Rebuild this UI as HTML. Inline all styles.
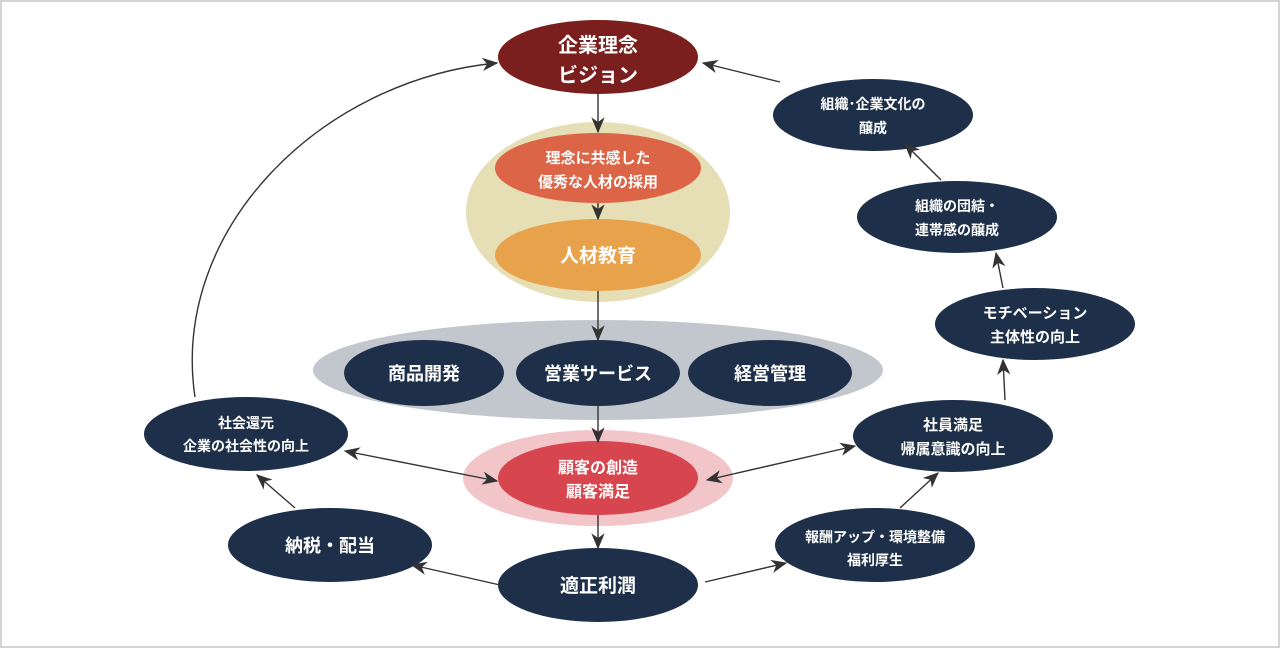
<!DOCTYPE html>
<html><head><meta charset="utf-8"><style>
html,body{margin:0;padding:0;background:#fff}
svg{display:block}
text{font-family:"Liberation Sans","Noto Sans CJK JP",sans-serif;font-weight:bold;fill:#fff;text-anchor:middle}
</style></head><body>
<svg width="1280" height="648" viewBox="0 0 1280 648" xmlns="http://www.w3.org/2000/svg">
<defs>
<marker id="a" viewBox="0 0 12 10" refX="11" refY="5" markerWidth="16" markerHeight="14" markerUnits="userSpaceOnUse" orient="auto-start-reverse">
<path d="M0,0 L12,5 L0,10 L3.5,5 z" fill="#333"/>
</marker>
</defs>
<rect x="1" y="1" width="1278" height="646" fill="#fff" stroke="#d4d4d4" stroke-width="2"/>
<ellipse cx="598" cy="57" rx="100" ry="37" fill="#7a1f1e"/>
<ellipse cx="598" cy="212" rx="132" ry="90" fill="#e6dfb6"/>
<ellipse cx="598" cy="168" rx="103" ry="35" fill="#dc6547"/>
<ellipse cx="598" cy="255" rx="103" ry="36" fill="#e9a24c"/>
<ellipse cx="598" cy="370" rx="285" ry="50" fill="#c2c6cd"/>
<ellipse cx="424" cy="373" rx="80" ry="33" fill="#1e3049"/>
<ellipse cx="598" cy="373" rx="82" ry="33" fill="#1e3049"/>
<ellipse cx="770" cy="373" rx="82" ry="33" fill="#1e3049"/>
<ellipse cx="598" cy="478" rx="135" ry="48" fill="#f2c5c9"/>
<ellipse cx="598" cy="478" rx="100" ry="37" fill="#d7454f"/>
<ellipse cx="598" cy="585" rx="100" ry="37" fill="#1e3049"/>
<ellipse cx="330" cy="545" rx="102" ry="37" fill="#1e3049"/>
<ellipse cx="246" cy="434" rx="102" ry="37" fill="#1e3049"/>
<ellipse cx="875" cy="545" rx="100" ry="37" fill="#1e3049"/>
<ellipse cx="953" cy="436" rx="100" ry="36" fill="#1e3049"/>
<ellipse cx="1035" cy="324" rx="100" ry="36" fill="#1e3049"/>
<ellipse cx="957" cy="217" rx="100" ry="36" fill="#1e3049"/>
<ellipse cx="873" cy="115" rx="100" ry="36" fill="#1e3049"/>
<g stroke="#333" stroke-width="1.4" fill="none">
<path d="M195,397 C170,230 320,80 497,63" marker-end="url(#a)"/>
<line x1="780" y1="82" x2="703" y2="63" marker-end="url(#a)"/>
<line x1="598" y1="94" x2="598" y2="132" marker-end="url(#a)"/>
<line x1="598" y1="203" x2="598" y2="219" marker-end="url(#a)"/>
<line x1="598" y1="291" x2="598" y2="340" marker-end="url(#a)"/>
<line x1="598" y1="406" x2="598" y2="442" marker-end="url(#a)"/>
<line x1="598" y1="515" x2="598" y2="548" marker-end="url(#a)"/>
<line x1="345" y1="451" x2="497" y2="481" marker-start="url(#a)" marker-end="url(#a)"/>
<line x1="707" y1="480" x2="855" y2="446" marker-start="url(#a)" marker-end="url(#a)"/>
<line x1="500" y1="585" x2="412" y2="565" marker-end="url(#a)"/>
<line x1="295" y1="508" x2="257" y2="475" marker-end="url(#a)"/>
<line x1="705" y1="582" x2="786" y2="563" marker-end="url(#a)"/>
<line x1="900" y1="508" x2="938" y2="473" marker-end="url(#a)"/>
<line x1="1003" y1="288" x2="996" y2="253" marker-end="url(#a)"/>
<line x1="941" y1="180" x2="905" y2="144" marker-end="url(#a)"/>
<line x1="1005" y1="400" x2="1003" y2="360" marker-end="url(#a)"/>
</g>
<text x="598" y="52" font-size="20">企業理念</text>
<text x="598" y="82" font-size="20">ビジョン</text>
<text x="598" y="163" font-size="15">理念に共感した</text>
<text x="598" y="187" font-size="15">優秀な人材の採用</text>
<text x="598" y="262" font-size="19">人材教育</text>
<text x="424" y="380" font-size="18">商品開発</text>
<text x="598" y="380" font-size="18">営業サービス</text>
<text x="770" y="380" font-size="18">経営管理</text>
<text x="598" y="473" font-size="16">顧客の創造</text>
<text x="598" y="497" font-size="16">顧客満足</text>
<text x="598" y="592" font-size="19">適正利潤</text>
<text x="330" y="552" font-size="18">納税・配当</text>
<text x="246" y="428" font-size="14">社会還元</text>
<text x="246" y="451" font-size="14">企業の社会性の向上</text>
<text x="875" y="542" font-size="14">報酬アップ・環境整備</text>
<text x="875" y="565" font-size="14">福利厚生</text>
<text x="953" y="430" font-size="15">社員満足</text>
<text x="953" y="454" font-size="15">帰属意識の向上</text>
<text x="1035" y="318" font-size="15">モチベーション</text>
<text x="1035" y="342" font-size="15">主体性の向上</text>
<text x="957" y="211" font-size="14">組織の団結・</text>
<text x="957" y="235" font-size="14">連帯感の醸成</text>
<text x="873" y="109" font-size="14">組織･企業文化の</text>
<text x="873" y="133" font-size="14">醸成</text>
</svg>
</body></html>
